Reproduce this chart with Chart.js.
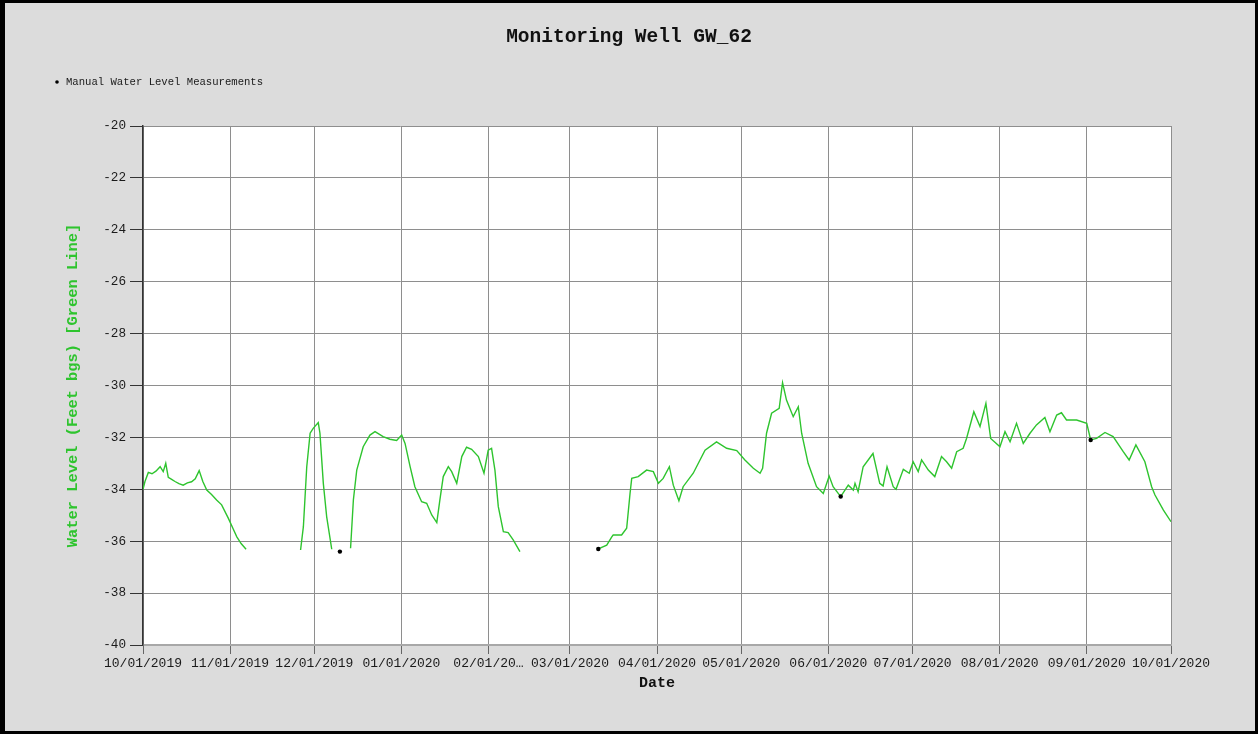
<!DOCTYPE html>
<html>
<head>
<meta charset="utf-8">
<title>Monitoring Well GW_62</title>
<script src="https://cdn.jsdelivr.net/npm/chart.js@4/dist/chart.umd.min.js"></script>
<style>
  html, body { margin: 0; padding: 0; background: #dcdcdc; }
  #wrap { position: relative; width: 1258px; height: 734px; background: #dcdcdc; overflow: hidden; }
  #wrap canvas { position: absolute; left: 0; top: 0; }
  #frame { position: absolute; left: 0; top: 0; width: 1258px; height: 734px; box-sizing: border-box;
           border-style: solid; border-color: #000; border-width: 3px 3px 3px 5px; pointer-events: none; }
</style>
</head>
<body>
<div id="wrap">
  <canvas id="chart" width="1258" height="734"></canvas>
  <div id="frame"></div>
</div>
<script>
// Days are counted from 10/01/2019; null marks a break in the logger record.
const loggerDays = [
  0, 0.7, 1.9, 3.2, 4.6, 6.1, 7.2, 8.1, 9.0, 10.2, 11.4, 12.8, 14.3, 15.8, 17.3, 18.6, 20.0, 21.3, 22.7, 24.4, 26.2, 28.0, 30.4, 32.0, 33.4, 35.0, 36.7,
  46,
  56.1, 57.1, 58.3, 59.5, 60.6, 62.4, 63.0, 64.2, 65.4, 67.2,
  70,
  73.9, 74.9, 76.1, 78.4, 80.8, 82.6, 85.5, 87.9, 90.3, 92.1, 93.3, 95.1, 96.8, 99.2, 101.0, 102.8, 104.6, 105.7, 106.9, 108.7, 109.9, 111.7, 113.5, 115.2, 117.0, 119.4, 121.4, 122.9, 124.1, 125.3, 126.5, 128.3, 130.0, 131.8, 134.2,
  148,
  162.1, 165.1, 166.9, 167.4, 170.4, 172.2, 173.4, 174.0, 176.3, 179.3, 181.7, 183.5, 185.2, 187.4, 188.8, 190.8, 192.3, 195.9, 200.1, 204.2, 207.8, 211.4, 214.3, 217.3, 219.7, 220.6, 222.0, 223.8, 226.5, 227.7, 229.1, 231.5, 233.3, 234.5, 236.8, 239.8, 242.2, 244.3, 245.7, 248.4, 251.1, 252.9, 253.5, 254.6, 256.4, 259.9, 262.3, 263.5, 264.9, 267.1, 268.1, 270.7, 272.8, 274.2, 276.0, 277.2, 279.6, 281.9, 284.3, 286.1, 287.9, 289.7, 292.0, 293.2, 295.8, 298.0, 300.1, 301.8, 305.1, 306.9, 308.7, 311.0, 313.4, 315.8, 318.1, 321.1, 322.9, 325.3, 327.0, 328.8, 332.4, 336.0, 337.4, 339.5, 342.5, 345.4, 349.0, 351.1, 353.5, 356.7, 359.1, 360.3, 363.3, 366
];
const loggerLevels = [
  -34.0, -33.7, -33.35, -33.4, -33.3, -33.13, -33.32, -33.0, -33.54, -33.62, -33.7, -33.78, -33.84, -33.75, -33.71, -33.6, -33.28, -33.7, -34.03, -34.2, -34.41, -34.6, -35.12, -35.5, -35.83, -36.1, -36.31,
  null,
  -36.34, -35.44, -33.13, -31.84, -31.65, -31.43, -31.84, -33.77, -35.06, -36.31,
  null,
  -36.27, -34.41, -33.26, -32.36, -31.91, -31.78, -31.97, -32.07, -32.12, -31.91, -32.23, -33.13, -33.9, -34.48, -34.54, -34.99, -35.28, -34.41, -33.51, -33.13, -33.32, -33.77, -32.74, -32.38, -32.46, -32.74, -33.38, -32.49, -32.42, -33.26, -34.67, -35.63, -35.67, -35.95, -36.40,
  null,
  -36.30, -36.15, -35.83, -35.76, -35.76, -35.50, -34.16, -33.58, -33.51, -33.26, -33.32, -33.77, -33.58, -33.13, -33.84, -34.44, -33.90, -33.38, -32.49, -32.17, -32.42, -32.51, -32.87, -33.19, -33.38, -33.19, -31.84, -31.07, -30.88, -29.89, -30.56, -31.2, -30.82, -31.84, -33.0, -33.9, -34.16, -33.49, -33.9, -34.28, -33.84, -34.03, -33.77, -34.09, -33.13, -32.62, -33.77, -33.87, -33.13, -33.9, -34.0, -33.23, -33.38, -32.94, -33.32, -32.87, -33.26, -33.51, -32.74, -32.94, -33.19, -32.55, -32.42, -32.04, -31.01, -31.58, -30.69, -32.04, -32.36, -31.78, -32.17, -31.46, -32.23, -31.84, -31.52, -31.23, -31.78, -31.14, -31.05, -31.33, -31.33, -31.46, -32.1, -32.04, -31.81, -31.97, -32.55, -32.87, -32.29, -32.94, -33.9, -34.22, -34.80, -35.25
];

// Hand measurements taken at the well
const manualDays = [70.1, 162.1, 248.4, 337.4];
const manualLevels = [-36.4, -36.3, -34.28, -32.1];

// Month boundaries on the date axis
const monthDays = [0, 31, 61, 92, 123, 152, 183, 213, 244, 274, 305, 336, 366];
const monthLabels = ['10/01/2019', '11/01/2019', '12/01/2019', '01/01/2020', '02/01/20\u2026', '03/01/2020',
  '04/01/2020', '05/01/2020', '06/01/2020', '07/01/2020', '08/01/2020', '09/01/2020', '10/01/2020'];

const levelMin = -40;
const levelMax = -20;
const levelStep = 2;

const chartTitle = 'Monitoring Well GW_62';
const manualLabel = 'Manual Water Level Measurements';
const levelAxisTitle = 'Water Level (Feet bgs) [Green Line]';
const dateAxisTitle = 'Date';

const MONO = "'Liberation Mono', 'Courier New', monospace";
const GREEN = '#2ec42e';

Chart.defaults.font.family = MONO;
Chart.defaults.color = '#1a1a1a';

const loggerPoints = loggerDays.map((d, i) => ({ x: d, y: loggerLevels[i] }));
const manualPoints = manualDays.map((d, i) => ({ x: d, y: manualLevels[i] }));

// White plotting field
const plotBackground = {
  id: 'plotBackground',
  beforeDraw(chart) {
    const { ctx, chartArea: a } = chart;
    ctx.save();
    ctx.fillStyle = '#ffffff';
    ctx.fillRect(a.left, a.top, a.right - a.left, a.bottom - a.top);
    ctx.restore();
  }
};

// Small key for the hand-measurement marker
const manualKey = {
  id: 'manualKey',
  afterDraw(chart) {
    const { ctx, chartArea } = chart;
    const y = chartArea.top - 44;
    const x = 57;
    ctx.save();
    ctx.fillStyle = '#000';
    ctx.beginPath();
    ctx.arc(x, y, 1.8, 0, Math.PI * 2);
    ctx.fill();
    ctx.font = '10.6px ' + MONO;
    ctx.fillStyle = '#1a1a1a';
    ctx.textBaseline = 'middle';
    ctx.textAlign = 'left';
    ctx.fillText(manualLabel, x + 9, y);
    ctx.restore();
  }
};

new Chart(document.getElementById('chart'), {
  type: 'line',
  data: {
    datasets: [
      {
        label: 'Logger',
        data: loggerPoints,
        borderColor: GREEN,
        borderWidth: 1.4,
        pointRadius: 0,
        tension: 0,
        spanGaps: false,
        fill: false,
        order: 2
      },
      {
        label: manualLabel,
        data: manualPoints,
        showLine: false,
        pointRadius: 2.2,
        pointBackgroundColor: '#000',
        pointBorderColor: '#000',
        pointBorderWidth: 0,
        order: 1
      }
    ]
  },
  options: {
    responsive: false,
    animation: false,
    devicePixelRatio: 1,
    layout: { padding: 0 },
    plugins: {
      legend: { display: false },
      tooltip: { enabled: false },
      title: {
        display: true,
        text: chartTitle,
        color: '#111',
        font: { family: MONO, size: 19.5, weight: 'bold' },
        padding: { top: 25.6, bottom: 77 }
      }
    },
    scales: {
      x: {
        type: 'linear',
        min: monthDays[0],
        max: monthDays[monthDays.length - 1],
        afterBuildTicks(scale) {
          scale.ticks = monthDays.map(v => ({ value: v }));
        },
        afterFit(scale) { scale.height = 89; },
        ticks: {
          autoSkip: false,
          maxRotation: 0,
          minRotation: 0,
          padding: 2,
          color: '#1a1a1a',
          font: { size: 13 },
          callback(value, index) { return monthLabels[index]; }
        },
        grid: { color: '#8e8e8e', lineWidth: 1, tickLength: 9, tickColor: '#666' },
        border: { display: true, color: '#a8a8a8', width: 2 },
        title: {
          display: true,
          text: dateAxisTitle,
          color: '#111',
          font: { size: 15, weight: 'bold' },
          padding: { top: 0, bottom: 42 }
        }
      },
      y: {
        type: 'linear',
        position: 'left',
        min: levelMin,
        max: levelMax,
        afterFit(scale) { scale.width = 143; },
        ticks: {
          stepSize: levelStep,
          padding: 4,
          color: '#1a1a1a',
          font: { size: 12.7 }
        },
        grid: { color: '#8e8e8e', lineWidth: 1, tickLength: 13, tickColor: '#333' },
        border: { display: true, color: '#333', width: 1.5 },
        title: {
          display: true,
          text: levelAxisTitle,
          color: GREEN,
          font: { size: 15.4, weight: 'bold' },
          padding: { top: 64, bottom: 0 }
        }
      },
      yRight: {
        type: 'linear',
        position: 'right',
        display: true,
        afterFit(scale) { scale.width = 87; },
        ticks: { display: false },
        grid: { display: false },
        border: { display: false }
      }
    }
  },
  plugins: [plotBackground, manualKey]
});
</script>
</body>
</html>
